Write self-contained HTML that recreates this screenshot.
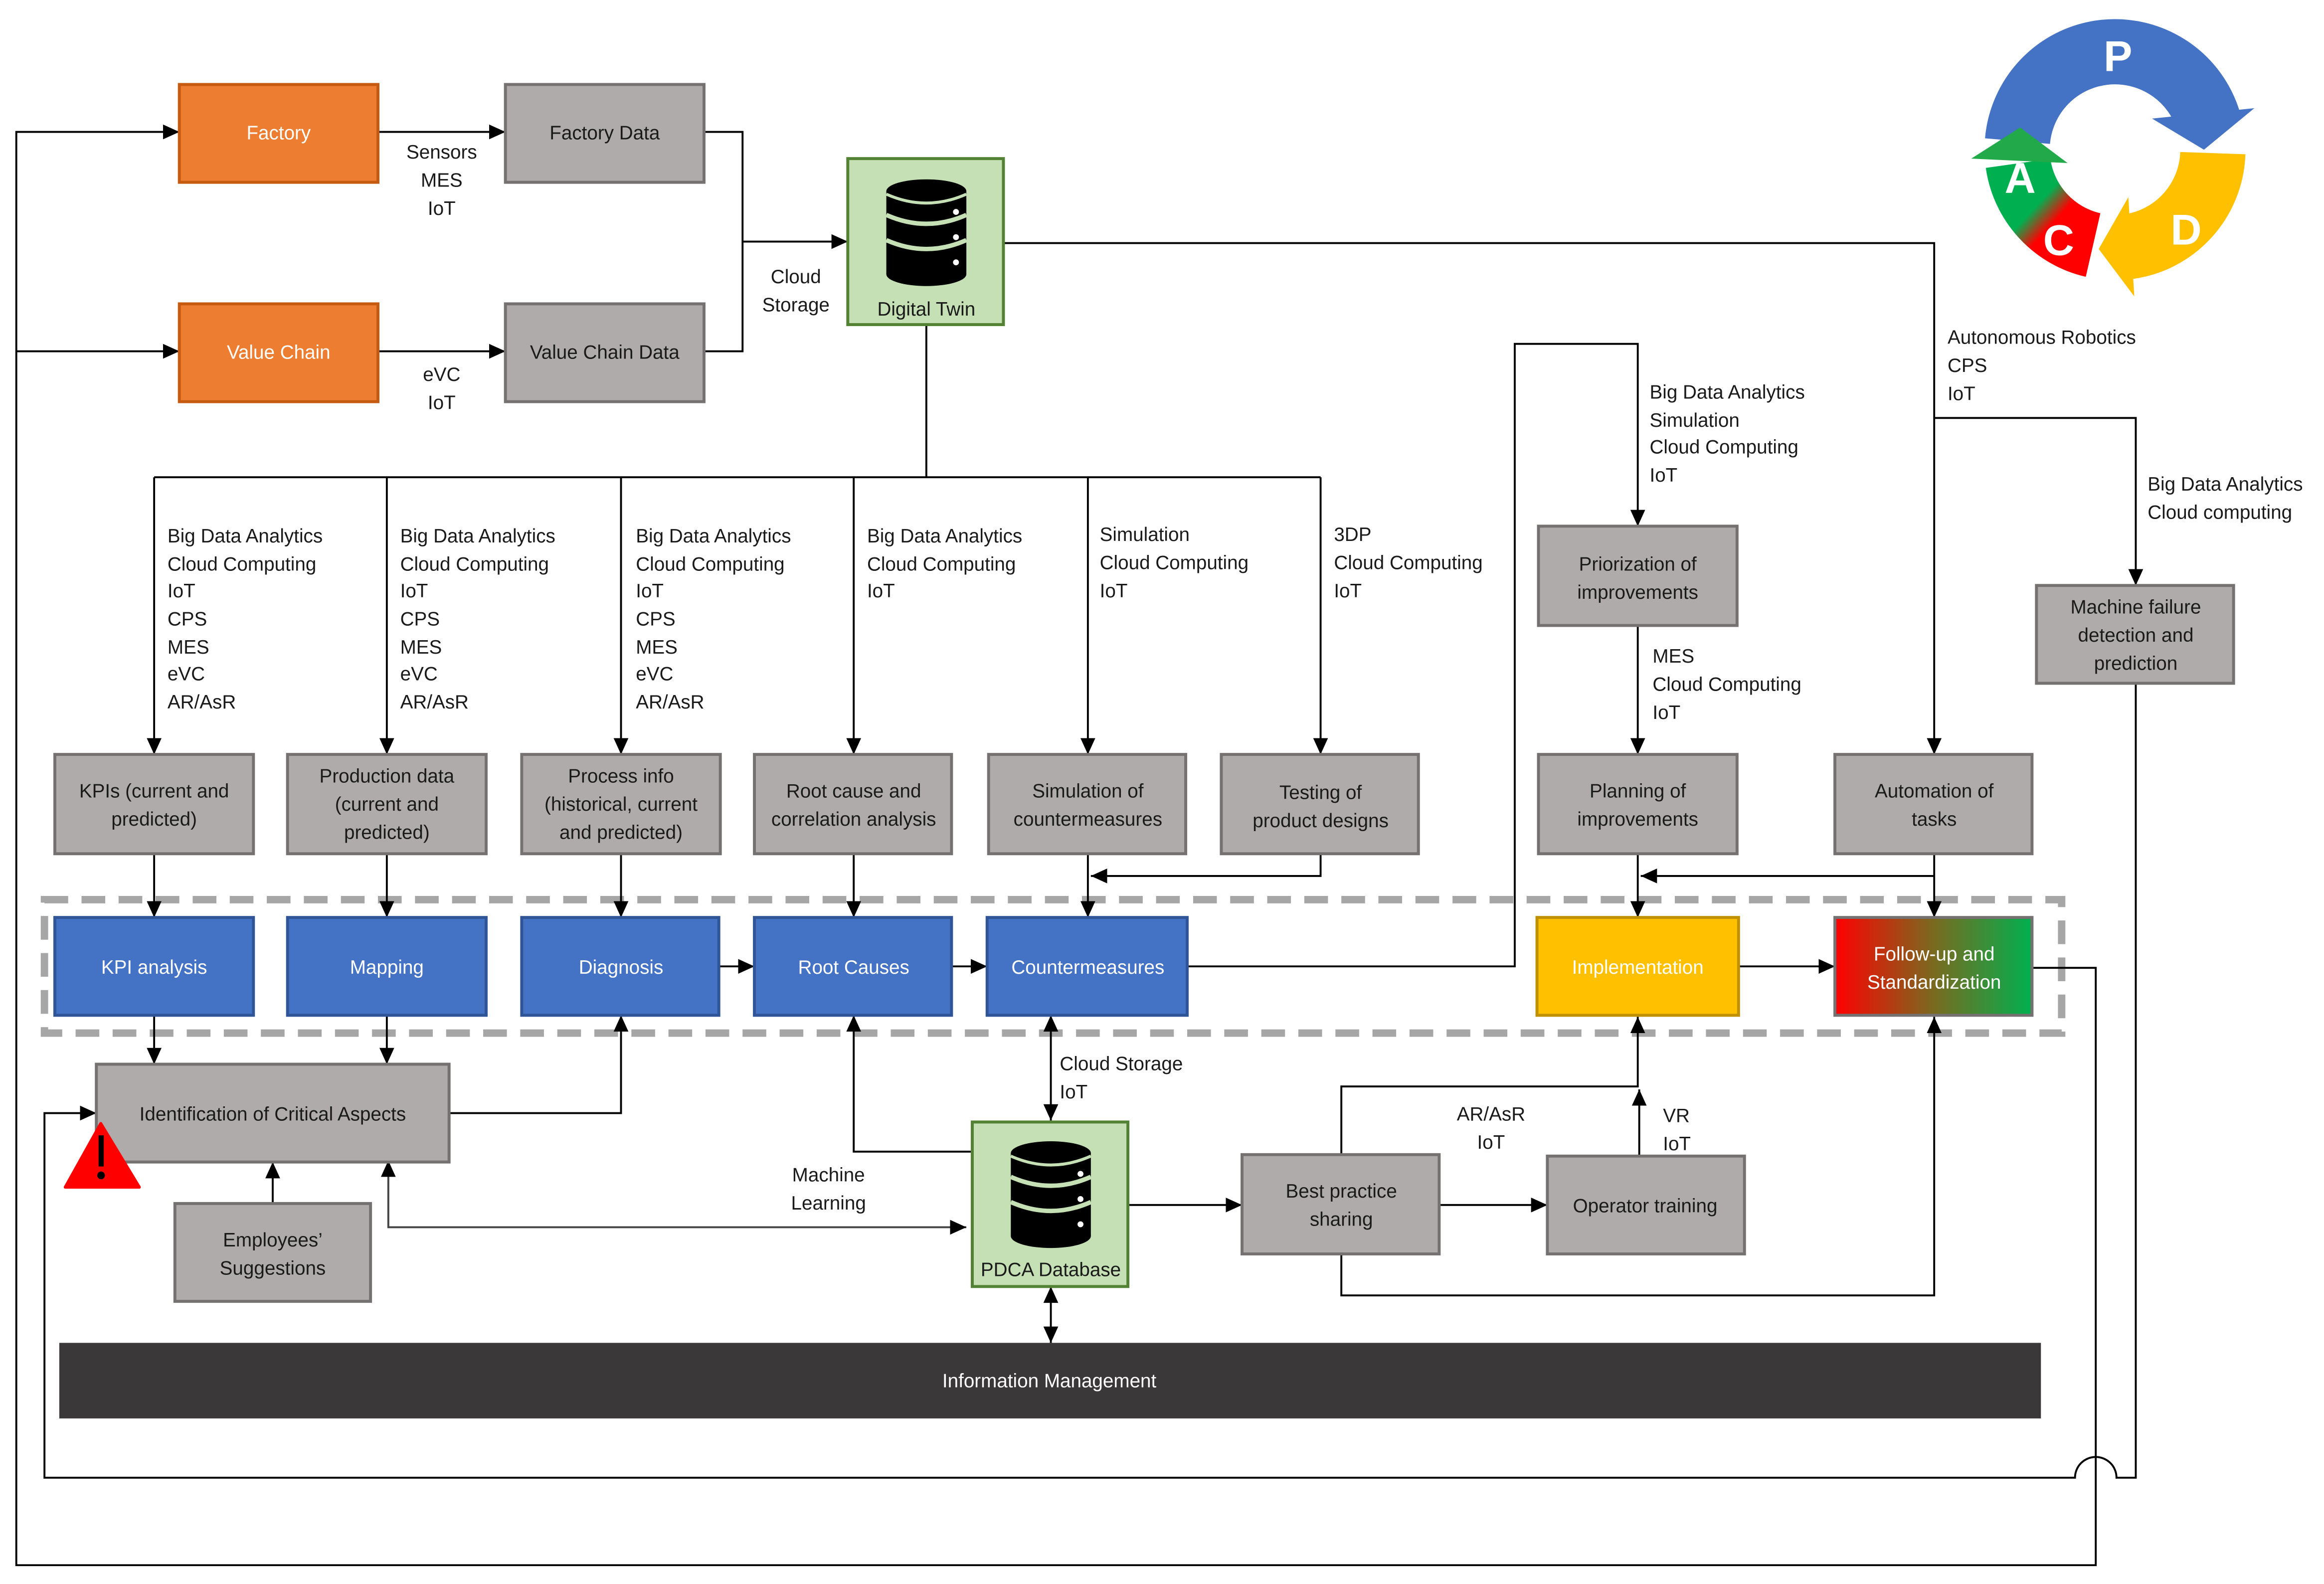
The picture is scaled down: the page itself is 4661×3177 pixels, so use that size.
<!DOCTYPE html>
<html><head><meta charset="utf-8"><style>
html,body{margin:0;padding:0;background:#fff}
svg{display:block}
text{font-family:"Liberation Sans",Arial,sans-serif;font-size:13px;fill:#1a1a1a}
.w{fill:#fff}
.c{text-anchor:middle}
.g{fill:#AFABAB;stroke:#767171;stroke-width:2}
.o{fill:#ED7D31;stroke:#C55A11;stroke-width:2}
.b{fill:#4472C4;stroke:#2F5597;stroke-width:2}
.gr{fill:#C5E0B4;stroke:#548235;stroke-width:2}
.l{fill:none;stroke:#000;stroke-width:1.3}
</style></head><body>
<svg width="4661" height="3177" viewBox="0 0 1568 1068.7" preserveAspectRatio="none" xmlns="http://www.w3.org/2000/svg">
<defs>
<marker id="a" markerUnits="userSpaceOnUse" markerWidth="12" markerHeight="10" refX="11" refY="5" orient="auto"><path d="M0,0 L11,5 L0,10 z" fill="#000"/></marker>
<marker id="s" markerUnits="userSpaceOnUse" markerWidth="12" markerHeight="10" refX="1" refY="5" orient="auto"><path d="M11,0 L0,5 L11,10 z" fill="#000"/></marker>
<linearGradient id="fu" x1="0" y1="0" x2="1" y2="0"><stop offset="0" stop-color="#FF0000"/><stop offset="0.5" stop-color="#7a6a20"/><stop offset="1" stop-color="#00B050"/></linearGradient>
<linearGradient id="rg" x1="1" y1="1" x2="0" y2="0"><stop offset="0.4" stop-color="#FF0000"/><stop offset="0.62" stop-color="#00B050"/></linearGradient>
<g id="db"><ellipse cx="0" cy="-28" rx="27" ry="8" fill="#000"/><rect x="-27" y="-28" width="54" height="56" fill="#000"/><ellipse cx="0" cy="28" rx="27" ry="8" fill="#000"/>
<path d="M-27,-12 Q0,0 27,-12 M-27,5 Q0,17 27,5" stroke="#C5E0B4" stroke-width="3" fill="none"/><path d="M-27,-26 Q0,-14 27,-26" stroke="#C5E0B4" stroke-width="2" fill="none"/>
<circle cx="20" cy="-14" r="2" fill="#fff"/><circle cx="20" cy="3" r="2" fill="#fff"/><circle cx="20" cy="20" r="2" fill="#fff"/></g>
</defs>

<rect x="30" y="607" width="1361" height="90" fill="none" stroke="#A6A6A6" stroke-width="5" stroke-dasharray="16,9"/>

<path class="l" d="M1371,653 H1414 V1056 H11 V89 H121" marker-end="url(#a)"/>
<path class="l" d="M11,237 H121" marker-end="url(#a)"/>
<path class="l" d="M1441,461 V997 H1428 A14,14 0 0 0 1400,997 H30 V751 H65" marker-end="url(#a)"/>

<path class="l" d="M255,89 H341" marker-end="url(#a)"/>
<path class="l" d="M255,237 H341" marker-end="url(#a)"/>
<path class="l" d="M475,89 H501 V237 H475"/>
<path class="l" d="M501,163 H572" marker-end="url(#a)" stroke-width="2"/>
<path class="l" d="M625,219 V322" stroke-width="2.2"/>
<path class="l" d="M104,322 H891"/>
<path class="l" d="M104,322 V509" marker-end="url(#a)"/>
<path class="l" d="M261,322 V509" marker-end="url(#a)"/>
<path class="l" d="M419,322 V509" marker-end="url(#a)"/>
<path class="l" d="M576,322 V509" marker-end="url(#a)"/>
<path class="l" d="M734,322 V509" marker-end="url(#a)"/>
<path class="l" d="M891,322 V509" marker-end="url(#a)"/>
<path class="l" d="M677,164 H1305 V509" marker-end="url(#a)"/>
<path class="l" d="M1305,282 H1441 V395" marker-end="url(#a)"/>
<path class="l" d="M801,652 H1022 V232 H1105 V355" marker-end="url(#a)"/>
<path class="l" d="M1105,422 V509" marker-end="url(#a)"/>
<path class="l" d="M1105,576 V619" marker-end="url(#a)"/>
<path class="l" d="M1305,576 V619" marker-end="url(#a)"/>
<path class="l" d="M1305,591 H1107" marker-end="url(#a)"/>
<path class="l" d="M891,576 V591 H736" marker-end="url(#a)"/>
<path class="l" d="M104,576 V619" marker-end="url(#a)"/>
<path class="l" d="M261,576 V619" marker-end="url(#a)"/>
<path class="l" d="M419,576 V619" marker-end="url(#a)"/>
<path class="l" d="M576,576 V619" marker-end="url(#a)"/>
<path class="l" d="M734,576 V619" marker-end="url(#a)"/>
<path class="l" d="M485,652 H509" marker-end="url(#a)"/>
<path class="l" d="M642,652 H666" marker-end="url(#a)"/>
<path class="l" d="M1173,652 H1238" marker-end="url(#a)"/>
<path class="l" d="M104,685 V718" marker-end="url(#a)"/>
<path class="l" d="M261,685 V718" marker-end="url(#a)"/>
<path class="l" d="M303,751 H419 V685" marker-end="url(#a)"/>
<path class="l" d="M184,812 V784" marker-end="url(#a)"/>
<path class="l" d="M262,784 V828 H652" marker-start="url(#s)" marker-end="url(#a)" style="stroke:#444"/>
<path class="l" d="M656,777 H576 V685" marker-end="url(#a)"/>
<path class="l" d="M709,686 V756" marker-start="url(#s)" marker-end="url(#a)"/>
<path class="l" d="M709,869 V906" marker-start="url(#s)" marker-end="url(#a)"/>
<path class="l" d="M761,813 H838" marker-end="url(#a)"/>
<path class="l" d="M971,813 H1044" marker-end="url(#a)"/>
<path class="l" d="M905,779 V733 H1105 V686" marker-end="url(#a)"/>
<path class="l" d="M1106,780 V735" marker-end="url(#a)"/>
<path class="l" d="M905,846 V874 H1305 V686" marker-end="url(#a)"/>

<rect class="o" x="121" y="57" width="134" height="66"/><text class="w c" x="188" y="94">Factory</text>
<rect class="g" x="341" y="57" width="134" height="66"/><text class="c" x="408" y="94">Factory Data</text>
<rect class="o" x="121" y="205" width="134" height="66"/><text class="w c" x="188" y="242">Value Chain</text>
<rect class="g" x="341" y="205" width="134" height="66"/><text class="c" x="408" y="242">Value Chain Data</text>
<rect class="gr" x="572" y="107" width="105" height="112"/><use href="#db" x="625" y="157"/><text class="c" x="625" y="213">Digital Twin</text>

<rect class="g" x="37" y="509" width="134" height="67"/><text class="c" x="104" y="538">KPIs (current and</text><text class="c" x="104" y="557">predicted)</text>
<rect class="g" x="194" y="509" width="134" height="67"/><text class="c" x="261" y="528">Production data</text><text class="c" x="261" y="547">(current and</text><text class="c" x="261" y="566">predicted)</text>
<rect class="g" x="352" y="509" width="134" height="67"/><text class="c" x="419" y="528">Process info</text><text class="c" x="419" y="547">(historical, current</text><text class="c" x="419" y="566">and predicted)</text>
<rect class="g" x="509" y="509" width="133" height="67"/><text class="c" x="576" y="538">Root cause and</text><text class="c" x="576" y="557">correlation analysis</text>
<rect class="g" x="667" y="509" width="133" height="67"/><text class="c" x="734" y="538">Simulation of</text><text class="c" x="734" y="557">countermeasures</text>
<rect class="g" x="824" y="509" width="133" height="67"/><text class="c" x="891" y="539">Testing of</text><text class="c" x="891" y="558">product designs</text>
<rect class="g" x="1038" y="509" width="134" height="67"/><text class="c" x="1105" y="538">Planning of</text><text class="c" x="1105" y="557">improvements</text>
<rect class="g" x="1238" y="509" width="133" height="67"/><text class="c" x="1305" y="538">Automation of</text><text class="c" x="1305" y="557">tasks</text>
<rect class="g" x="1038" y="355" width="134" height="67"/><text class="c" x="1105" y="385">Priorization of</text><text class="c" x="1105" y="404">improvements</text>
<rect class="g" x="1374" y="395" width="133" height="66"/><text class="c" x="1441" y="414">Machine failure</text><text class="c" x="1441" y="433">detection and</text><text class="c" x="1441" y="452">prediction</text>

<rect class="b" x="37" y="619" width="134" height="66"/><text class="w c" x="104" y="657">KPI analysis</text>
<rect class="b" x="194" y="619" width="134" height="66"/><text class="w c" x="261" y="657">Mapping</text>
<rect class="b" x="352" y="619" width="133" height="66"/><text class="w c" x="419" y="657">Diagnosis</text>
<rect class="b" x="509" y="619" width="133" height="66"/><text class="w c" x="576" y="657">Root Causes</text>
<rect class="b" x="666" y="619" width="135" height="66"/><text class="w c" x="734" y="657">Countermeasures</text>
<rect x="1037" y="619" width="136" height="66" fill="#FFC000" stroke="#BF9000" stroke-width="2"/><text class="w c" x="1105" y="657">Implementation</text>
<rect x="1238" y="619" width="133" height="66" fill="url(#fu)" stroke="#767171" stroke-width="2"/><text class="w c" x="1305" y="648">Follow-up and</text><text class="w c" x="1305" y="667">Standardization</text>

<rect class="g" x="65" y="718" width="238" height="66"/><text class="c" x="184" y="756">Identification of Critical Aspects</text>
<path d="M68,758 L94,801 L44,801 Z" fill="#FF0000" stroke="#FF0000" stroke-width="2" stroke-linejoin="round"/>
<rect x="66.5" y="766" width="3.5" height="21" fill="#000"/><circle cx="68.2" cy="793" r="2.6" fill="#000"/>
<rect class="g" x="118" y="812" width="132" height="66"/><text class="c" x="184" y="841">Employees’</text><text class="c" x="184" y="860">Suggestions</text>
<rect class="gr" x="656" y="757" width="105" height="111"/><use href="#db" x="709" y="806"/><text class="c" x="709" y="861">PDCA Database</text>
<rect class="g" x="838" y="779" width="133" height="67"/><text class="c" x="905" y="808">Best practice</text><text class="c" x="905" y="827">sharing</text>
<rect class="g" x="1044" y="780" width="133" height="66"/><text class="c" x="1110" y="818">Operator training</text>
<rect x="40" y="906" width="1337" height="51" fill="#3A3838"/><text class="w c" x="708" y="936">Information Management</text>

<text class="c" x="298" y="107">Sensors</text><text class="c" x="298" y="126">MES</text><text class="c" x="298" y="145">IoT</text>
<text class="c" x="298" y="257">eVC</text><text class="c" x="298" y="276">IoT</text>
<text class="c" x="537" y="191">Cloud</text><text class="c" x="537" y="210">Storage</text>
<g>
<text x="113" y="366">Big Data Analytics</text><text x="113" y="385">Cloud Computing</text><text x="113" y="403">IoT</text><text x="113" y="422">CPS</text><text x="113" y="441">MES</text><text x="113" y="459">eVC</text><text x="113" y="478">AR/AsR</text>
<text x="270" y="366">Big Data Analytics</text><text x="270" y="385">Cloud Computing</text><text x="270" y="403">IoT</text><text x="270" y="422">CPS</text><text x="270" y="441">MES</text><text x="270" y="459">eVC</text><text x="270" y="478">AR/AsR</text>
<text x="429" y="366">Big Data Analytics</text><text x="429" y="385">Cloud Computing</text><text x="429" y="403">IoT</text><text x="429" y="422">CPS</text><text x="429" y="441">MES</text><text x="429" y="459">eVC</text><text x="429" y="478">AR/AsR</text>
<text x="585" y="366">Big Data Analytics</text><text x="585" y="385">Cloud Computing</text><text x="585" y="403">IoT</text>
<text x="742" y="365">Simulation</text><text x="742" y="384">Cloud Computing</text><text x="742" y="403">IoT</text>
<text x="900" y="365">3DP</text><text x="900" y="384">Cloud Computing</text><text x="900" y="403">IoT</text>
<text x="1113" y="269">Big Data Analytics</text><text x="1113" y="288">Simulation</text><text x="1113" y="306">Cloud Computing</text><text x="1113" y="325">IoT</text>
<text x="1115" y="447">MES</text><text x="1115" y="466">Cloud Computing</text><text x="1115" y="485">IoT</text>
<text x="1314" y="232">Autonomous Robotics</text><text x="1314" y="251">CPS</text><text x="1314" y="270">IoT</text>
<text x="1449" y="331">Big Data Analytics</text><text x="1449" y="350">Cloud computing</text>
<text x="715" y="722">Cloud Storage</text><text x="715" y="741">IoT</text>
<text class="c" x="559" y="797">Machine</text><text class="c" x="559" y="816">Learning</text>
<text class="c" x="1006" y="756">AR/AsR</text><text class="c" x="1006" y="775">IoT</text>
<text x="1122" y="757">VR</text><text x="1122" y="776">IoT</text>
</g>

<!-- PDCA cycle: center (1427,101), r=66, width 44 -->
<path d="M1361.2,95.2 A66,66 0 0 1 1490.1,81.7" fill="none" stroke="#4472C4" stroke-width="44"/>
<path d="M1452,80 L1521,73 L1487,101 Z" fill="#4472C4"/>
<path d="M1493,103.3 A66,66 0 0 1 1436.2,166.4" fill="none" stroke="#FFC000" stroke-width="44"/>
<path d="M1436,133 L1440,200 L1416,168 Z" fill="#FFC000"/>
<path d="M1412.2,165.3 A66,66 0 0 1 1361.6,110.2" fill="none" stroke="url(#rg)" stroke-width="44"/>
<path d="M1330,107 L1395,110 L1363,86 Z" fill="#22AA4A"/>
<text class="w c" x="1429" y="48" style="font-size:29px;font-weight:bold">P</text>
<text class="w c" x="1475" y="165" style="font-size:29px;font-weight:bold">D</text>
<text class="w c" x="1389" y="172" style="font-size:29px;font-weight:bold">C</text>
<text class="w c" x="1363" y="130" style="font-size:29px;font-weight:bold">A</text>
</svg>
</body></html>
